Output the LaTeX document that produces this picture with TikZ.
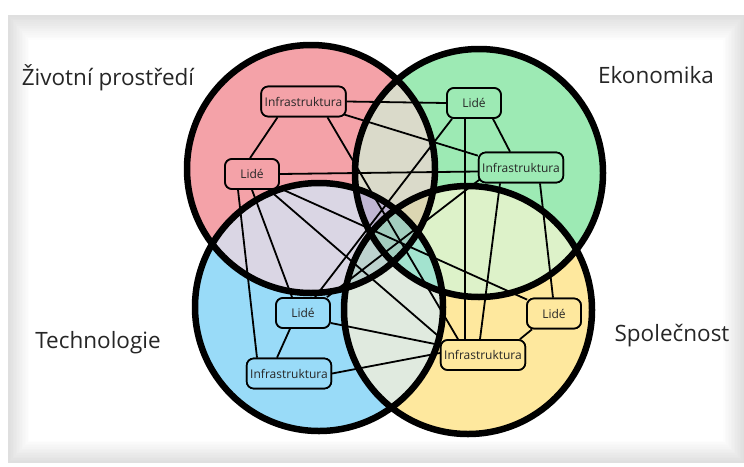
\documentclass[tikz,border=0pt]{standalone}
\usepackage{fontspec}
\setmainfont{Open Sans}
\definecolor{cR}{HTML}{F4A2A8}
\definecolor{cG}{HTML}{9DEAB4}
\definecolor{cB}{HTML}{99DBF8}
\definecolor{cY}{HTML}{FEE89E}
\definecolor{cRG}{HTML}{DADACA}
\definecolor{cRB}{HTML}{DAD6E4}
\definecolor{cRY}{HTML}{C9D2C4}
\definecolor{cGB}{HTML}{A8DDCB}
\definecolor{cGY}{HTML}{DDF2C9}
\definecolor{cBY}{HTML}{E0EADF}
\definecolor{cRGB}{HTML}{C0B6D3}
\definecolor{cRGY}{HTML}{DCD6B2}
\definecolor{cRBY}{HTML}{BDD3CF}
\definecolor{cGBY}{HTML}{A3E3CF}
\definecolor{cRGBY}{HTML}{A3CDBE}
\definecolor{txt}{HTML}{262626}
\tikzset{
  box/.style={draw, line width=1.7pt, rounded corners=7pt, minimum height=30pt,
    inner xsep=3.5pt, font=\fontsize{12}{14}\selectfont, text=txt},
  lidebox/.style={box, minimum width=54pt},
  conn/.style={line width=1.8pt},
  ring/.style={line width=6.5pt},
  lbl/.style={font=\fontsize{22.5}{27}\selectfont, text=txt}
}
\def\pR{(311,169) circle (124pt)}
\def\pG{(479,173) circle (124pt)}
\def\pB{(319,307) circle (124pt)}
\def\pY{(468,310) circle (124pt)}
\begin{document}
\begin{tikzpicture}[x=1pt,y=-1pt]
\useasboundingbox (0,0) rectangle (744,466);
\fill[white] (0,0) rectangle (744,466);
% panel with soft inner shadow
\foreach \i in {0,...,14} {
  \pgfmathsetmacro\g{(14-\i)*0.9}
  \fill[black!\g] (8+\i*1.5,15+\i*1.8) rectangle (744-\i*1.5,463-\i*1.6);
}
\fill[white] (30,42) rectangle (722,439);
% base fills
\fill[cR] \pR; \fill[cG] \pG; \fill[cB] \pB; \fill[cY] \pY;
% pairs
\begin{scope}\clip \pR; \fill[cRG] \pG; \end{scope}
\begin{scope}\clip \pR; \fill[cRB] \pB; \end{scope}
\begin{scope}\clip \pR; \fill[cRY] \pY; \end{scope}
\begin{scope}\clip \pG; \fill[cGB] \pB; \end{scope}
\begin{scope}\clip \pG; \fill[cGY] \pY; \end{scope}
\begin{scope}\clip \pB; \fill[cBY] \pY; \end{scope}
% triples
\begin{scope}\clip \pR; \clip \pG; \fill[cRGB] \pB; \end{scope}
\begin{scope}\clip \pR; \clip \pG; \fill[cRGY] \pY; \end{scope}
\begin{scope}\clip \pR; \clip \pB; \fill[cRBY] \pY; \end{scope}
\begin{scope}\clip \pG; \clip \pB; \fill[cGBY] \pY; \end{scope}
% all four
\begin{scope}\clip \pR; \clip \pG; \clip \pB; \fill[cRGBY] \pY; \end{scope}
% nodes (placed first so connectors can refer to them; redrawn on top)
\node[box, fill=cR] (RI) at (303.5,101.5) {Infrastruktura};
\node[lidebox, fill=cR] (RL) at (252,174) {Lidé};
\node[lidebox, fill=cG] (GL) at (474,103) {Lidé};
\node[box, fill=cG] (GI) at (521,167.5) {Infrastruktura};
\node[lidebox, fill=cB] (BL) at (303,313) {Lidé};
\node[box, fill=cB] (BI) at (289,373.5) {Infrastruktura};
\node[lidebox, fill=cY] (YL) at (554,313.5) {Lidé};
\node[box, fill=cY] (YI) at (483,355) {Infrastruktura};
% connectors
\draw[conn] ([xshift=-26pt]RI.south) -- ([xshift=-2pt]RL.north);
\draw[conn] (RI.east) -- (GL.west);
\draw[conn] ([xshift=-3pt,yshift=3pt]RI.south east) -- ([yshift=-4pt]GI.north west);
\draw[conn] ([xshift=24pt]RI.south) -- ([xshift=-25pt]YI.north);
\draw[conn] (RL.east) -- ([yshift=-4pt]GI.west);
\draw[conn] ([xshift=-14pt]RL.south) -- ([xshift=-32pt]BI.north);
\draw[conn] (RL.south) -- ([xshift=-11pt]BL.north);
\draw[conn] ([xshift=17pt]RL.south) -- ([xshift=2pt]YI.north west);
\draw[conn] ([xshift=-1pt,yshift=2pt]RL.south east) -- ([xshift=1pt,yshift=-2pt]YL.north west);
\draw[conn] ([xshift=19pt]GL.south) -- ([xshift=-11pt]GI.north);
\draw[conn] ([xshift=-9pt]GL.south) -- ([xshift=-18pt]YI.north);
\draw[conn] ([xshift=-22pt]GL.south) -- ([xshift=12pt]BL.north);
\draw[conn] ([xshift=19pt]GI.south) -- ([xshift=-1pt]YL.north);
\draw[conn] ([xshift=-21pt]GI.south) -- ([xshift=-3pt]YI.north);
\draw[conn] ([xshift=2pt,yshift=4pt]GI.south west) -- ([xshift=24pt]BL.north);
\draw[conn] ([xshift=-22pt]YL.south) -- ([xshift=37pt]YI.north);
\draw[conn] ([xshift=-13pt]BL.south) -- ([xshift=-12pt]BI.north);
\draw[conn] ([yshift=-10pt]BL.east) -- ([yshift=10pt]YI.west);
\draw[conn] (BI.east) -- ([yshift=2pt]YI.west);
% circle outlines
\draw[ring] \pR; \draw[ring] \pG; \draw[ring] \pB; \draw[ring] \pY;
% nodes on top
\node[box, fill=cR] at (RI) {Infrastruktura};
\node[lidebox, fill=cR] at (RL) {Lidé};
\node[lidebox, fill=cG] at (GL) {Lidé};
\node[box, fill=cG] at (GI) {Infrastruktura};
\node[lidebox, fill=cB] at (BL) {Lidé};
\node[box, fill=cB] at (BI) {Infrastruktura};
\node[lidebox, fill=cY] at (YL) {Lidé};
\node[box, fill=cY] at (YI) {Infrastruktura};
% labels
\node[lbl] (T1) at (108,78) {Životní prostředí};
\node[lbl] (T2) at (656,75) {Ekonomika};
\node[lbl] (T3) at (98,343) {Technologie};
\node[lbl] (T4) at (672,336) {Společnost};
\end{tikzpicture}
\end{document}
